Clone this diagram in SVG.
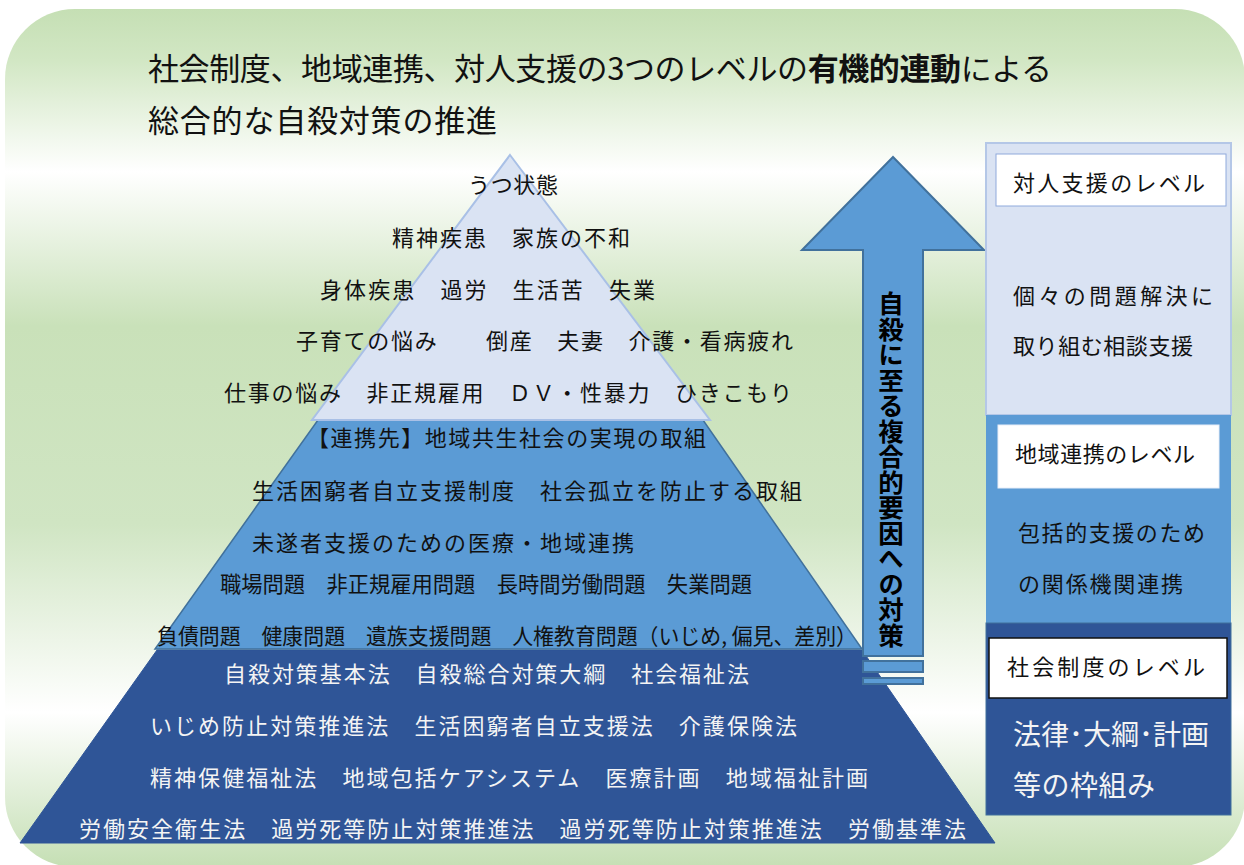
<svg xmlns="http://www.w3.org/2000/svg" width="1244" height="865" viewBox="0 0 1244 865">
<defs>
<linearGradient id="bg" gradientUnits="userSpaceOnUse" x1="0" y1="9" x2="0" y2="867">
<stop offset="0" stop-color="#c5dfb4"/>
<stop offset="0.06" stop-color="#d2e7c4"/>
<stop offset="0.19" stop-color="#ffffff"/>
<stop offset="0.37" stop-color="#c9e1b9"/>
<stop offset="0.6" stop-color="#d0e5c3"/>
<stop offset="0.82" stop-color="#ffffff"/>
<stop offset="1" stop-color="#c5dfb4"/>
</linearGradient>
<style>
text{font-family:"Noto Sans CJK JP","Liberation Sans",sans-serif;dominant-baseline:central}
.pt{font-size:22px;fill:#111}
.pw{font-size:22px;fill:#f4f4f4}
.lbl{font-size:22px;fill:#111}
.arrow{fill:#5b9bd5;stroke:#41719c;stroke-width:2}
</style>
</defs>
<rect x="5" y="9" width="1240" height="858" rx="70" ry="70" fill="url(#bg)"/>
<g id="title">
<text x="148" y="66" font-size="31" fill="#111" textLength="904" lengthAdjust="spacing">社会制度、地域連携、対人支援の3つのレベルの<tspan font-weight="bold">有機的連動</tspan>による</text>
<text x="148" y="118" font-size="31" fill="#111" textLength="349" lengthAdjust="spacing">総合的な自殺対策の推進</text>
</g>
<g id="pyramid-bottom">
<polygon points="157,650 862,650 995,843 20,843" fill="#2f5597" stroke="#2f5597" stroke-width="1"/>
<text class="pw" x="224" y="672" textLength="525" lengthAdjust="spacing">自殺対策基本法　自殺総合対策大綱　社会福祉法</text>
<text class="pw" x="150" y="724" textLength="647" lengthAdjust="spacing">いじめ防止対策推進法　生活困窮者自立支援法　介護保険法</text>
<text class="pw" x="150" y="776" textLength="718" lengthAdjust="spacing">精神保健福祉法　地域包括ケアシステム　医療計画　地域福祉計画</text>
<text class="pw" x="79" y="827" textLength="887" lengthAdjust="spacing">労働安全衛生法　過労死等防止対策推進法　過労死等防止対策推進法　労働基準法</text>
</g>
<g id="pyramid-middle">
<polygon points="318,420 703,420 862,649 155,649" fill="#5b9bd5" stroke="#41719c" stroke-width="1.5"/>
<text class="pt" x="307" y="436" textLength="399" lengthAdjust="spacing">【連携先】地域共生社会の実現の取組</text>
<text class="pt" x="252" y="489" textLength="550" lengthAdjust="spacing">生活困窮者自立支援制度　社会孤立を防止する取組</text>
<text class="pt" x="252" y="541" textLength="382" lengthAdjust="spacing">未遂者支援のための医療・地域連携</text>
<text class="pt" x="220" y="582" textLength="532" lengthAdjust="spacingAndGlyphs">職場問題　非正規雇用問題　長時間労働問題　失業問題</text>
<text class="pt" x="157" y="634" textLength="700" lengthAdjust="spacingAndGlyphs">負債問題　健康問題　遺族支援問題　人権教育問題（いじめ, 偏見、差別）</text>
</g>
<g id="pyramid-top">
<polygon points="510,155 710,420 312,420" fill="#dae3f3" stroke="#a9c0e6" stroke-width="2"/>
<text class="pt" x="468" y="183" textLength="90" lengthAdjust="spacing">うつ状態</text>
<text class="pt" x="392" y="236" textLength="238" lengthAdjust="spacing">精神疾患　家族の不和</text>
<text class="pt" x="320" y="288" textLength="335" lengthAdjust="spacing">身体疾患　過労　生活苦　失業</text>
<text class="pt" x="296" y="339" textLength="497" lengthAdjust="spacing">子育ての悩み　　倒産　夫妻　介護・看病疲れ</text>
<text class="pt" x="224" y="391" textLength="568" lengthAdjust="spacing">仕事の悩み　非正規雇用　ＤＶ・性暴力　ひきこもり</text>
</g>
<g id="connectors">
<g id="arrow">
<polygon class="arrow" points="893,157 984,250 923,250 923,656 863,656 863,250 802,250"/>
<rect class="arrow" x="863" y="661" width="60" height="11"/>
<rect class="arrow" x="863" y="678" width="60" height="6"/>
<text x="891" y="291" font-size="25.5" font-weight="bold" fill="#000" style="writing-mode:vertical-rl">自殺に至る複合的要因への対策</text>
</g>
</g>
<g id="level-personal">
<rect x="986" y="143" width="245" height="272" fill="#dae3f3" stroke="#b4c7e7" stroke-width="2"/>
<rect x="996" y="154" width="230" height="52" fill="#ffffff" stroke="#8faadc" stroke-width="1"/>
<text class="lbl" x="1013" y="181" font-size="23" textLength="192" lengthAdjust="spacing">対人支援のレベル</text>
<text class="lbl" x="1013" y="294" textLength="200" lengthAdjust="spacing">個々の問題解決に</text>
<text class="lbl" x="1013" y="344" textLength="180" lengthAdjust="spacing">取り組む相談支援</text>
</g>
<g id="level-community">
<rect x="986" y="415" width="245" height="208" fill="#5b9bd5"/>
<rect x="998" y="425" width="221" height="63" fill="#ffffff" stroke="#e8eef8" stroke-width="1"/>
<text class="lbl" x="1015" y="452" textLength="180" lengthAdjust="spacing">地域連携のレベル</text>
<text class="lbl" x="1018" y="531" textLength="187" lengthAdjust="spacing">包括的支援のため</text>
<text class="lbl" x="1018" y="582" textLength="165" lengthAdjust="spacing">の関係機関連携</text>
</g>
<g id="level-social">
<rect x="986" y="623" width="245" height="192" fill="#2f5597" stroke="#41719c" stroke-width="1"/>
<rect x="989" y="638" width="238" height="60" fill="#ffffff" stroke="#111" stroke-width="1.5"/>
<text class="lbl" x="1007" y="665" font-size="24" textLength="198" lengthAdjust="spacing">社会制度のレベル</text>
<text x="1013" y="733" font-size="28" fill="#f4f4f4" textLength="196" lengthAdjust="spacing">法律･大綱･計画</text>
<text x="1013" y="784" font-size="28" fill="#f4f4f4" textLength="142" lengthAdjust="spacing">等の枠組み</text>
</g>
</svg>
